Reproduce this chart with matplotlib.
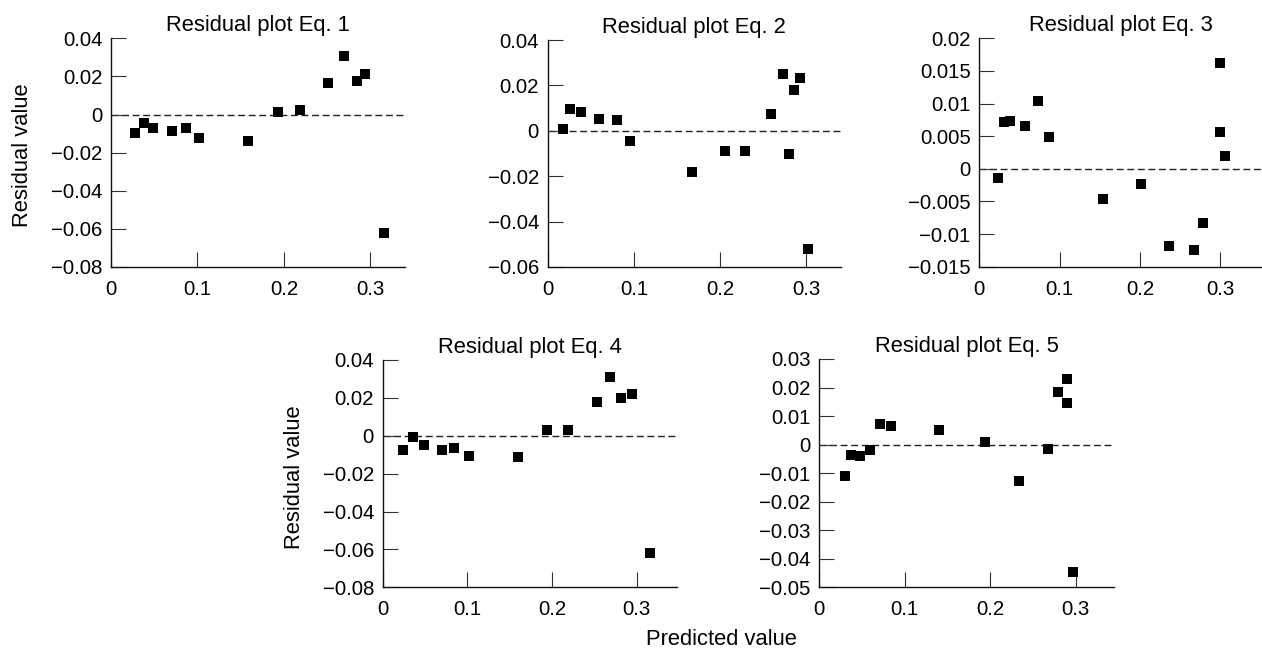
import matplotlib
matplotlib.use("Agg")
import matplotlib.pyplot as plt
from matplotlib.ticker import FixedLocator, FuncFormatter

plt.rcParams["font.family"] = ["Liberation Sans", "DejaVu Sans"]

# ---- data: predicted value (x) vs residual value (y) for each equation ----
titles = ["Residual plot Eq. 1", "Residual plot Eq. 2", "Residual plot Eq. 3",
          "Residual plot Eq. 4", "Residual plot Eq. 5"]

pred_eq1 = [0.028, 0.038, 0.049, 0.070, 0.087, 0.102, 0.159, 0.193, 0.218,
            0.251, 0.270, 0.284, 0.294, 0.316]
resid_eq1 = [-0.0096, -0.0044, -0.0072, -0.0084, -0.0070, -0.0123, -0.0140,
             0.0012, 0.0023, 0.0163, 0.0305, 0.0175, 0.0212, -0.0620]

pred_eq2 = [0.018, 0.026, 0.039, 0.059, 0.080, 0.095, 0.167, 0.205, 0.229,
            0.259, 0.273, 0.285, 0.280, 0.292, 0.302]
resid_eq2 = [0.0010, 0.0096, 0.0085, 0.0050, 0.0047, -0.0046, -0.0181,
             -0.0090, -0.0091, 0.0075, 0.0250, 0.0181, -0.0101, 0.0231, -0.0519]

pred_eq3 = [0.0236, 0.0307, 0.0385, 0.0564, 0.0729, 0.0862, 0.1546, 0.2018,
            0.2358, 0.2669, 0.2789, 0.300, 0.300, 0.3054]
resid_eq3 = [-0.00146, 0.0071, 0.0073, 0.0066, 0.0104, 0.0049, -0.0047,
             -0.0024, -0.0119, -0.0124, -0.0083, 0.0162, 0.0057, 0.0019]

pred_eq4 = [0.0236, 0.0362, 0.0484, 0.0705, 0.0846, 0.1016, 0.1594, 0.194,
            0.219, 0.2528, 0.268, 0.282, 0.295, 0.3157]
resid_eq4 = [-0.0074, -0.0007, -0.0051, -0.0076, -0.0063, -0.0106, -0.0114,
             0.0032, 0.0033, 0.0178, 0.0311, 0.0197, 0.0222, -0.0621]

pred_eq5 = [0.0296, 0.037, 0.0471, 0.0596, 0.0709, 0.0838, 0.1402, 0.1936,
            0.2337, 0.2669, 0.2793, 0.2894, 0.2898, 0.2972]
resid_eq5 = [-0.0110, -0.0037, -0.0039, -0.0019, 0.0071, 0.0064, 0.0051,
             0.0010, -0.0126, -0.0015, 0.0185, 0.0231, 0.0147, -0.0445]

x_ticks = [0, 0.1, 0.2, 0.3]
y_ticks_a = [-0.08, -0.06, -0.04, -0.02, 0, 0.02, 0.04]
y_ticks_b = [-0.06, -0.04, -0.02, 0, 0.02, 0.04]
y_ticks_c = [-0.015, -0.01, -0.005, 0, 0.005, 0.01, 0.015, 0.02]
y_ticks_d = [-0.05, -0.04, -0.03, -0.02, -0.01, 0, 0.01, 0.02, 0.03]

panels = [
    (pred_eq1, resid_eq1, y_ticks_a, 0.34),
    (pred_eq2, resid_eq2, y_ticks_b, 0.34),
    (pred_eq3, resid_eq3, y_ticks_c, 0.352),
    (pred_eq4, resid_eq4, y_ticks_a, 0.348),
    (pred_eq5, resid_eq5, y_ticks_d, 0.345),
]

# axes boxes in pixels: left, top, right, bottom
W, H = 1262, 649
boxes = [
    (111.0, 38.3, 405.0, 267.0),
    (547.7, 40.0, 841.0, 267.0),
    (979.3, 38.3, 1262.0, 266.7),
    (382.7, 360.0, 677.3, 587.3),
    (819.3, 359.0, 1114.3, 587.3),
]


def tick_text(v, pos):
    s = "{:g}".format(v)
    return s.replace("-", "\u2212")


fig = plt.figure(figsize=(W / 100, H / 100), dpi=100)

for (xs, ys, yt, xmax), (l, t, r, b), title in zip(panels, boxes, titles):
    ax = fig.add_axes([l / W, (H - b) / H, (r - l) / W, (b - t) / H])
    ax.set_xlim(0, xmax)
    ax.set_ylim(yt[0], yt[-1])
    ax.axhline(0, color="#222222", lw=1.0, ls=(0, (5, 2.6)), zorder=1)
    ax.plot(xs, ys, ls="none", marker="s", ms=7, color="black",
            markeredgewidth=0, zorder=3, clip_on=False)
    for side in ("top", "right"):
        ax.spines[side].set_visible(False)
    for side in ("left", "bottom"):
        ax.spines[side].set_linewidth(1.0)
        ax.spines[side].set_color("#111111")
    ax.xaxis.set_major_locator(FixedLocator(x_ticks))
    ax.yaxis.set_major_locator(FixedLocator(yt))
    ax.xaxis.set_major_formatter(FuncFormatter(tick_text))
    ax.yaxis.set_major_formatter(FuncFormatter(tick_text))
    ax.tick_params(axis="both", direction="in", length=10.8, width=0.8,
                   color="#333333", labelsize=14.7, labelcolor="black")
    ax.tick_params(axis="x", pad=9.5)
    ax.tick_params(axis="y", pad=6.3)
    ax.set_title(title, fontsize=15.8, pad=5.2)

fig.text(22.5 / W, 1 - 155.5 / H, "Residual value", rotation=90,
         ha="center", va="center", fontsize=15.8)
fig.text(294.5 / W, 1 - 477.0 / H, "Residual value", rotation=90,
         ha="center", va="center", fontsize=15.8)
fig.text(721.5 / W, 1 - 645.0 / H, "Predicted value",
         ha="center", va="baseline", fontsize=15.8)

fig.savefig("out.png", dpi=100)
